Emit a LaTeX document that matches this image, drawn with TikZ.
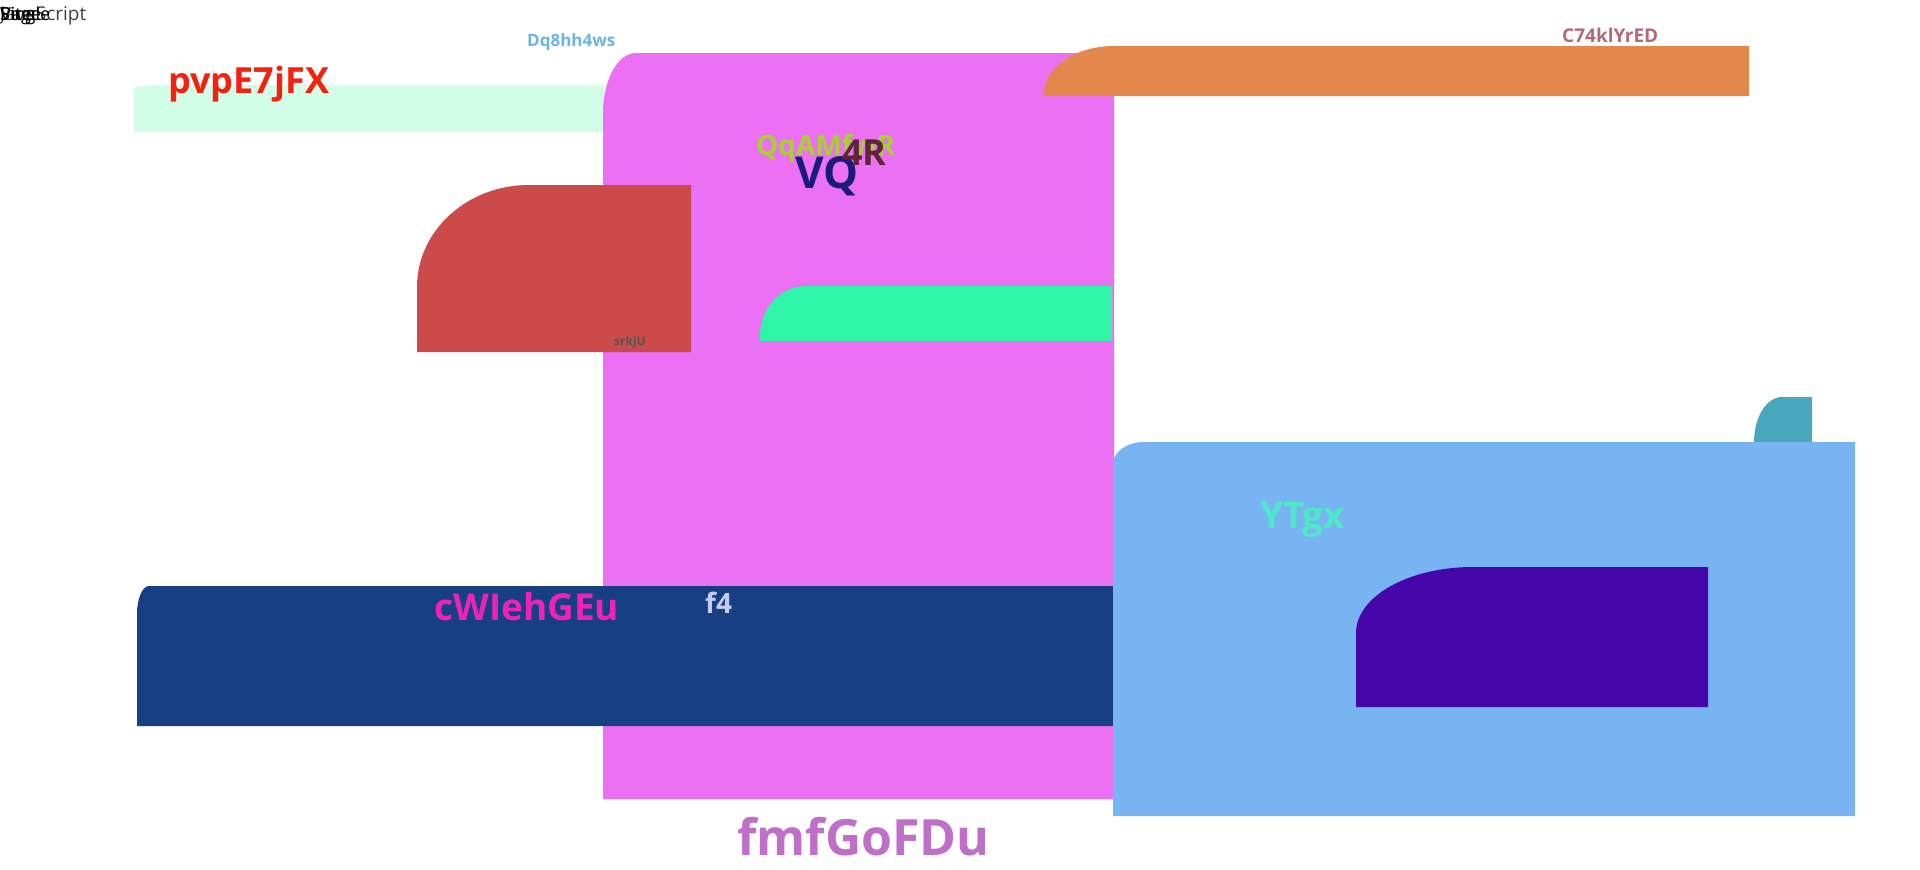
\documentclass[tikz,border=0pt]{standalone}
\usepackage{fontspec}
\setmainfont{Open Sans}
\usepackage{tikz}

\definecolor{mintbar}{HTML}{D2FDE6}
\definecolor{pinkbox}{HTML}{EC70F4}
\definecolor{orangebar}{HTML}{E4874C}
\definecolor{redbox}{HTML}{CB4A4A}
\definecolor{tealbar}{HTML}{2EF5A8}
\definecolor{navybar}{HTML}{173F84}
\definecolor{bluebox}{HTML}{78B4F2}
\definecolor{tabbox}{HTML}{4AA8BE}
\definecolor{purplebox}{HTML}{4506AA}
\definecolor{pvpred}{HTML}{F5200E}
\definecolor{dqblue}{HTML}{6CB4E4}
\definecolor{cmauve}{HTML}{B06A7A}
\definecolor{qqgreen}{HTML}{A8D030}
\definecolor{vqnavy}{HTML}{1A1A7A}
\definecolor{frbrown}{HTML}{5E2538}
\definecolor{srkgray}{HTML}{555555}
\definecolor{cwmagenta}{HTML}{EE22BB}
\definecolor{flavender}{HTML}{C6CCF0}
\definecolor{ytaqua}{HTML}{4DE8C8}
\definecolor{fmfviolet}{HTML}{BE6FC8}

\newcommand{\tlbox}[7]{%
  \fill[#1] (#2,#3+#7) arc[start angle=180,end angle=270,x radius=#6,y radius=#7]
    -- (#4,#3) -- (#4,#5) -- (#2,#5) -- cycle;}
\newcommand{\fs}[1]{\fontsize{#1}{#1}\selectfont}

\begin{document}
\begin{tikzpicture}[x=1pt,y=-1pt,
	lbl/.style={inner sep=0pt,anchor=base west,font=\bfseries}]
	\useasboundingbox (0,0) rectangle (1920,870);

	\tlbox{mintbar}{134}{85}{604}{132}{40}{3}
	\tlbox{pinkbox}{603}{53}{1114}{799}{33}{60}
	\tlbox{orangebar}{1044}{46}{1749}{96}{70}{48}
	\tlbox{redbox}{417}{185}{691}{352}{112}{102}
	\tlbox{tealbar}{760}{286}{1112}{341}{46}{50}
	\tlbox{navybar}{137}{586}{1113}{726}{12}{28}
	\tlbox{tabbox}{1754}{397}{1812}{450}{28}{45}
	\tlbox{bluebox}{1113}{442}{1855}{816}{31}{22}
	\tlbox{purplebox}{1356}{567}{1708}{707}{117}{66}

	\node[lbl,font=\fs{19},text=black!75] (js) at (0,20) {JavaScript};
	\node[lbl,font=\fs{18},text=black] (single) at (0,20) {Single};
	\node[lbl,font=\fs{18},text=black] (page) at (0,20) {Page};
	\node[lbl,font=\fs{18},text=black] (vite) at (0,20) {Vite};

	\node[lbl,font=\bfseries\fs{36},text=pvpred] (pvp) at (168,93) {pvpE7jFX};
	\node[lbl,font=\bfseries\fs{17},text=dqblue] (dq) at (527,46) {Dq8hh4ws};
	\node[lbl,font=\bfseries\fs{19},text=cmauve] (c74) at (1562,42) {C74klYrED};
	\node[lbl,font=\bfseries\fs{28},text=qqgreen] (qq) at (756,155) {QqAMfwR};
	\node[lbl,font=\bfseries\fs{44},text=vqnavy] (vq) at (795,188) {VQ};
	\node[lbl,font=\bfseries\fs{36},text=frbrown] (fr) at (842,165) {4R};
	\node[lbl,font=\bfseries\fs{12},text=srkgray] (srk) at (614,345) {srkjU};
	\node[lbl,font=\bfseries\fs{37},text=cwmagenta] (cw) at (434,620) {cWIehGEu};
	\node[lbl,font=\bfseries\fs{28},text=flavender] (f4) at (705,613) {f4};
	\node[lbl,font=\bfseries\fs{37},text=ytaqua] (yt) at (1260,528) {YTgx};
	\node[lbl,font=\bfseries\fs{50},text=fmfviolet] (fmf) at (737,855) {fmfGoFDu};
\end{tikzpicture}
\end{document}
